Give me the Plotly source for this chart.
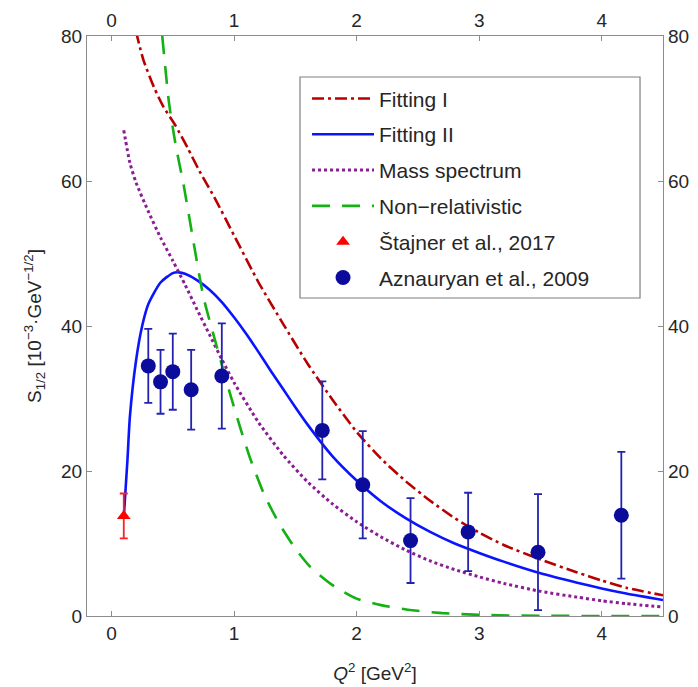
import plotly.graph_objects as go

# Theoretical curves: S1/2 amplitude vs Q^2
fit1_q2 = [0.2, 0.26, 0.35, 0.425, 0.52, 0.62, 0.72, 0.85, 1.0, 1.2, 1.4, 1.6, 1.8,
           2.0, 2.2, 2.4, 2.6, 2.8, 3.0, 3.2, 3.5, 3.8, 4.0, 4.2, 4.5]
fit1_s = [80.6, 76.7, 72.8, 70.2, 67.7, 64.6, 61.3, 57.4, 52.5, 46.0, 40.3, 34.8, 29.9,
          25.4, 21.7, 18.6, 15.9, 13.5, 11.5, 9.8, 7.8, 6.0, 4.9, 3.9, 2.85]

fit2_q2 = [0.1, 0.13, 0.15, 0.2, 0.25, 0.3, 0.4, 0.5, 0.55, 0.6, 0.7, 0.8, 0.9, 1.0,
           1.1, 1.2, 1.3, 1.4, 1.5, 1.6, 1.8, 2.0, 2.2, 2.4, 2.6, 2.8, 3.0, 3.2, 3.5,
           3.8, 4.0, 4.2, 4.5]
fit2_s = [13.6, 21.5, 27.5, 35.2, 40.0, 43.0, 46.0, 47.3, 47.4, 47.2, 46.3, 45.0, 43.3, 41.2,
          38.9, 36.4, 33.8, 31.3, 28.8, 26.4, 22.1, 18.7, 15.8, 13.5, 11.6, 10.0, 8.7, 7.5, 5.9,
          4.6, 3.8, 3.1, 2.2]

mass_q2 = [0.1, 0.15, 0.2, 0.3, 0.4, 0.5, 0.6, 0.7, 0.8, 0.9, 1.0, 1.2, 1.4, 1.6, 1.8,
           2.0, 2.2, 2.4, 2.6, 2.8, 3.0, 3.2, 3.5, 3.8, 4.0, 4.2, 4.5]
mass_s = [67.0, 62.5, 59.8, 55.8, 52.2, 49.0, 45.7, 42.2, 38.8, 35.4, 32.2, 26.7, 22.2, 18.5, 15.5,
          13.0, 10.9, 9.1, 7.6, 6.4, 5.4, 4.5, 3.4, 2.6, 2.1, 1.7, 1.25]

nonrel_q2 = [0.414, 0.469, 0.52, 0.59, 0.67, 0.75, 0.86, 0.97, 1.05, 1.13, 1.25, 1.37, 1.5,
             1.62, 1.8, 2.0, 2.2, 2.45, 2.7, 3.0, 3.5, 4.0, 4.5]
nonrel_s = [80.0, 70.8, 65.3, 59.3, 51.5, 44.0, 37.1, 30.5, 26.0, 21.8, 16.6, 12.7, 9.3,
            6.8, 4.3, 2.4, 1.5, 0.8, 0.4, 0.15, 0.03, 0.0, 0.0]

# Experimental data
stajner_q2 = [0.1]
stajner_s = [13.8]
stajner_err = [3.1]

azn_q2 = [0.3, 0.4, 0.5, 0.65, 0.9, 1.72, 2.05, 2.44, 2.91, 3.48, 4.16]
azn_s = [34.5, 32.3, 33.7, 31.2, 33.1, 25.6, 18.1, 10.4, 11.6, 8.8, 13.9]
azn_err = [5.1, 4.4, 5.25, 5.5, 7.25, 6.75, 7.4, 5.85, 5.4, 8.0, 8.75]

x_ticks = [0, 1, 2, 3, 4]
y_ticks = [0, 20, 40, 60, 80]

AXIS_GRAY = "#8c8c8c"
TEXT = "#262626"
FONT = "Liberation Sans, Arial, sans-serif"

fig = go.Figure()

fig.add_trace(go.Scatter(x=fit1_q2, y=fit1_s, mode="lines", name="Fitting I", legendgroup="a",
                         line=dict(color="#b80000", width=2.6, dash="12px,4px,3px,4px",
                                   shape="spline", smoothing=0.6)))
fig.add_trace(go.Scatter(x=fit2_q2, y=fit2_s, mode="lines", name="Fitting II", legendgroup="b",
                         line=dict(color="#0a14ff", width=2.6, shape="spline", smoothing=0.6)))
fig.add_trace(go.Scatter(x=mass_q2, y=mass_s, mode="lines", name="Mass spectrum", legendgroup="c",
                         line=dict(color="#8b1c95", width=3, dash="3px,3px",
                                   shape="spline", smoothing=0.6)))
fig.add_trace(go.Scatter(x=nonrel_q2, y=nonrel_s, mode="lines", name="Non\u2212relativistic",
                         legendgroup="d",
                         line=dict(color="#14b014", width=2.6, dash="18px,12px",
                                   shape="spline", smoothing=0.6)))
fig.add_trace(go.Scatter(x=stajner_q2, y=stajner_s, mode="markers", name="\u0160tajner et al., 2017",
                         legendgroup="e",
                         marker=dict(symbol="triangle-up", size=12, color="#ff0000"),
                         error_y=dict(type="data", array=stajner_err, color="#ff2020",
                                      thickness=1.8, width=4)))
fig.add_trace(go.Scatter(x=azn_q2, y=azn_s, mode="markers", name="Aznauryan et al., 2009",
                         legendgroup="f",
                         marker=dict(symbol="circle", size=15, color="#0c0c9c"),
                         error_y=dict(type="data", array=azn_err, color="#2323b0",
                                      thickness=1.8, width=4)))
# mirrored top/right axes
fig.add_trace(go.Scatter(x=[None], y=[None], xaxis="x2", yaxis="y2", showlegend=False,
                         hoverinfo="skip"))

axis_common = dict(showgrid=False, zeroline=False, showline=True, linecolor=AXIS_GRAY,
                   linewidth=1.2, ticks="inside", ticklen=5, tickcolor=AXIS_GRAY, tickwidth=1.2,
                   tickfont=dict(family=FONT, size=19, color=TEXT), automargin=False)

fig.update_layout(
    width=698, height=687,
    margin=dict(l=87, r=35, t=36, b=71),
    paper_bgcolor="white", plot_bgcolor="white",
    font=dict(family=FONT, color=TEXT),
    xaxis=dict(range=[-0.2, 4.5], tickvals=x_ticks, anchor="y",
               title=dict(text="<i>Q</i><sup>2</sup> [GeV<sup>2</sup>]",
                          font=dict(family=FONT, size=19, color=TEXT), standoff=23),
               **axis_common),
    xaxis2=dict(range=[-0.2, 4.5], tickvals=x_ticks, overlaying="x", side="top", anchor="y",
                **axis_common),
    yaxis=dict(range=[0, 80], tickvals=y_ticks, anchor="x",
               title=dict(text="S<sub>1/2</sub> [10<sup>\u22123</sup>\u00b7GeV<sup>\u22121/2</sup>]",
                          font=dict(family=FONT, size=19, color=TEXT), standoff=14),
               **axis_common),
    yaxis2=dict(range=[0, 80], tickvals=y_ticks, overlaying="y", side="right", anchor="x",
                **axis_common),
    legend=dict(x=0.382, y=0.927, xanchor="left", yanchor="top",
                bgcolor="rgba(0,0,0,0)", borderwidth=0,
                font=dict(family=FONT, size=21, color=TEXT),
                itemwidth=62, tracegroupgap=5.5, traceorder="grouped"),
    shapes=[dict(type="rect", xref="paper", yref="paper", x0=0.3698, x1=0.9601,
                 y0=0.5483, y1=0.9293, line=dict(color="#7f7f7f", width=1.2),
                 fillcolor="white", layer="below")],
    showlegend=True,
)

fig.write_html("out.html")
